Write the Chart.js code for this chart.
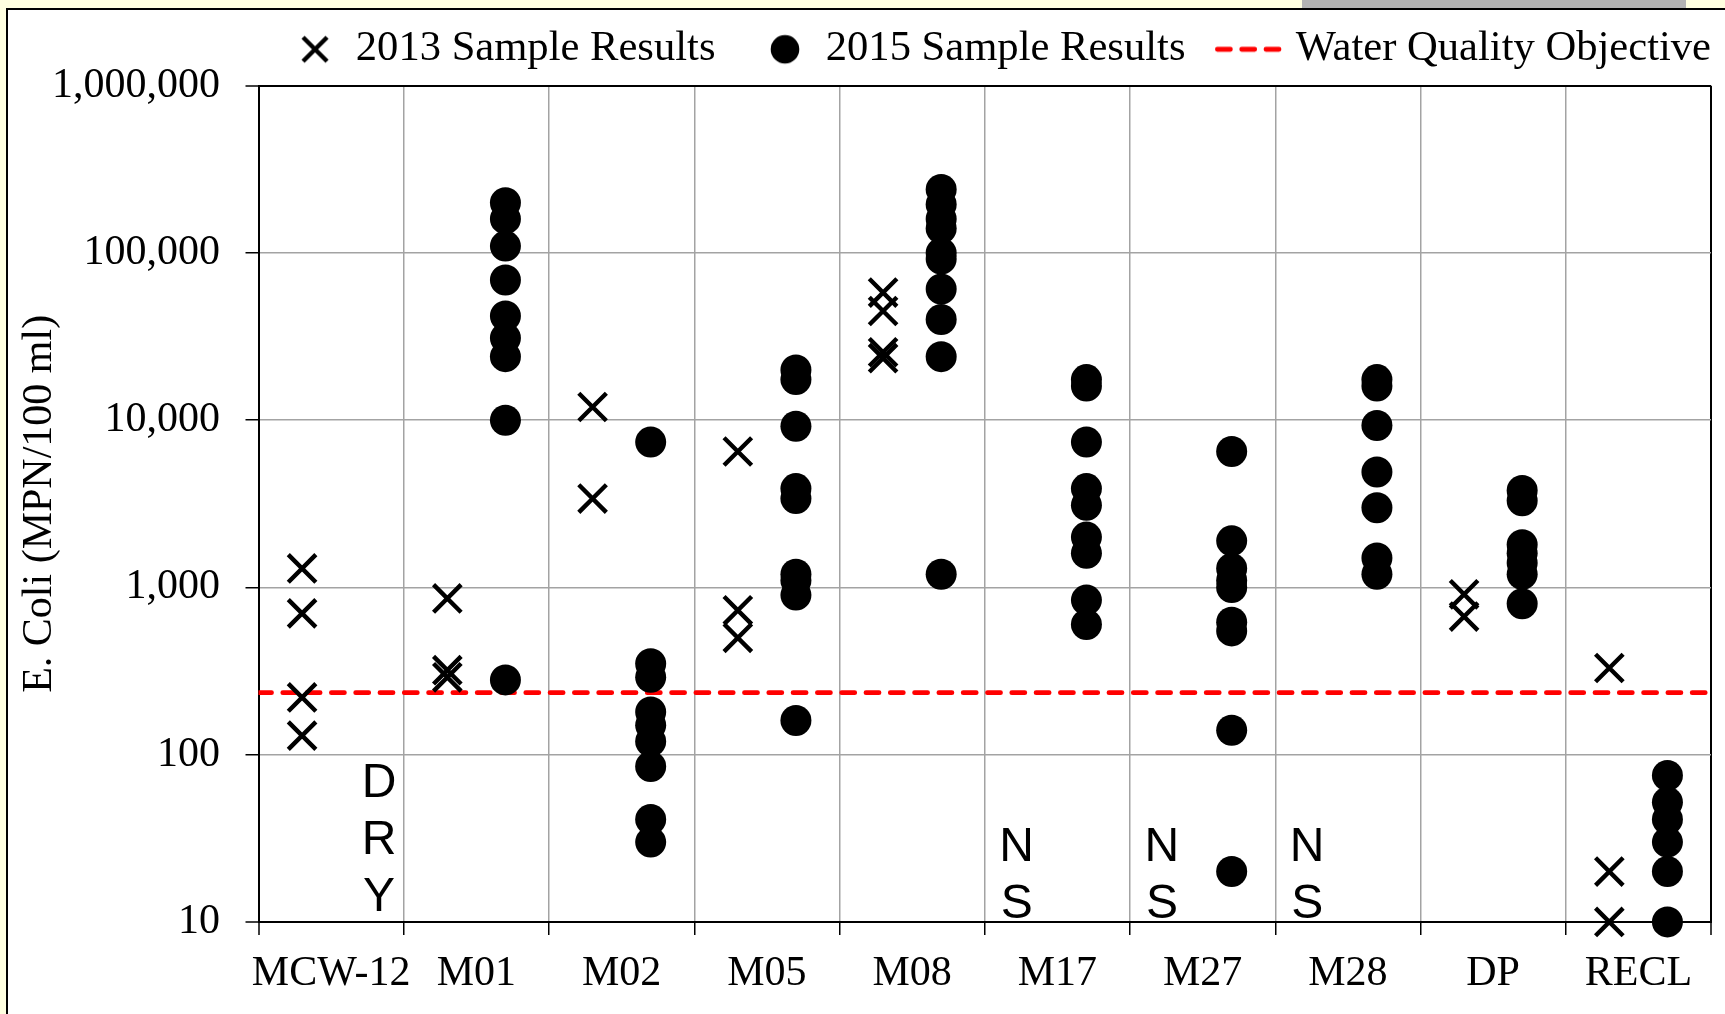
<!DOCTYPE html>
<html>
<head>
<meta charset="utf-8">
<script src="https://cdn.jsdelivr.net/npm/chart.js@4.4.1/dist/chart.umd.min.js"></script>
<style>
  html, body { margin: 0; padding: 0; width: 1725px; height: 1014px; overflow: hidden; background: #FFFFE0; }
  #frame { position: absolute; left: 6px; top: 8px; width: 1800px; height: 1100px; background: #ffffff;
           border-left: 2px solid #000; border-top: 2px solid #000; }
  #tab { position: absolute; left: 1302px; top: 0; width: 384px; height: 8px; background: #b3b3b3; }
  #wrap { position: absolute; left: 0; top: -22px; }
</style>
</head>
<body>
<div id="frame"></div>
<div id="tab"></div>
<div id="wrap"><canvas id="c" width="1761" height="1036"></canvas></div>
<script>
// ---------------- data ----------------
const categories = ['MCW-12', 'M01', 'M02', 'M05', 'M08', 'M17', 'M27', 'M28', 'DP', 'RECL'];
const seriesNames = ['2013 Sample Results', '2015 Sample Results', 'Water Quality Objective'];

// E. coli results (MPN/100 ml), one list per station, in category order
const results2013 = [
  [1300, 700, 220, 130],          // MCW-12
  [860, 320, 290],                // M01
  [12000, 3400],                  // M02
  [6500, 730, 500],               // M05
  [58000, 45000, 25500, 23500],   // M08
  [],                             // M17 (not sampled)
  [],                             // M27 (not sampled)
  [],                             // M28 (not sampled)
  [910, 670],                     // DP
  [330, 20, 10]                   // RECL
];
const results2015 = [
  [],                                                                 // MCW-12 (dry)
  [200000, 160000, 110000, 69000, 42000, 31000, 24000, 10000, 280],   // M01
  [7400, 350, 290, 180, 150, 120, 85, 41, 30],                        // M02
  [20000, 17500, 9200, 3900, 3400, 1200, 1100, 900, 160],             // M05
  [240000, 195000, 160000, 140000, 100000, 92000, 61000, 40000, 24000, 1200], // M08
  [17500, 16000, 7400, 3900, 3100, 2000, 1600, 840, 600],             // M17
  [6500, 1900, 1300, 1100, 1000, 620, 550, 140, 20],                  // M27
  [17500, 16000, 9300, 4900, 3000, 1500, 1200],                       // M28
  [3800, 3300, 1800, 1600, 1400, 1200, 800],                          // DP
  [75, 52, 41, 30, 20, 10]                                            // RECL
];
const waterQualityObjective = 235;
const yTickValues = [10, 100, 1000, 10000, 100000, 1000000];
const noteCategories = ['MCW-12', 'M17', 'M27', 'M28'];
const noteTexts = ['DRY', 'NS', 'NS', 'NS'];
const noteSeries = [1, 0, 0, 0]; // which year's slot the note sits in

// ---------------- styling ----------------
const SERIF = "'Liberation Serif', 'Times New Roman', serif";
const SANS = "'Liberation Sans', Arial, sans-serif";
const GRID = '#a3a3a3';
const seriesShift = [-0.2, 0.2];

Chart.defaults.font.family = SERIF;
Chart.defaults.font.size = 42;
Chart.defaults.color = '#000';

function toPoints(results, shift) {
  const pts = [];
  results.forEach((vals, i) => vals.forEach(v => pts.push({ x: i + shift, y: v })));
  return pts;
}

function makeSymbol(w, h, draw) {
  const c = document.createElement('canvas');
  c.width = w; c.height = h;
  draw(c.getContext('2d'));
  return c;
}
const legendSymbols = [
  makeSymbol(32, 32, g => {
    g.strokeStyle = '#000'; g.lineWidth = 4.4; g.beginPath();
    g.moveTo(4, 4); g.lineTo(28, 28); g.moveTo(28, 4); g.lineTo(4, 28); g.stroke();
  }),
  makeSymbol(32, 32, g => {
    g.fillStyle = '#000'; g.beginPath(); g.arc(16, 16, 14.3, 0, Math.PI * 2); g.fill();
  }),
  makeSymbol(80, 10, g => {
    g.strokeStyle = '#ff0000'; g.lineWidth = 4.8; g.lineCap = 'round'; g.setLineDash([13, 11.3]);
    g.beginPath(); g.moveTo(2.4, 5); g.lineTo(65, 5); g.stroke();
  })
];

const notesPlugin = {
  id: 'stationNotes',
  afterDatasetsDraw(chart) {
    const ctx = chart.ctx;
    const xs = chart.scales.xv;
    const bottom = chart.chartArea.bottom;
    const noteShift = [-0.28, 0.33];
    const baseGap = [4, 11];
    ctx.save();
    ctx.font = '48px ' + SANS;
    ctx.fillStyle = '#000';
    ctx.textAlign = 'center';
    ctx.textBaseline = 'alphabetic';
    noteCategories.forEach((cat, k) => {
      const i = categories.indexOf(cat);
      const s = noteSeries[k];
      const x = xs.getPixelForValue(i + noteShift[s]);
      const letters = noteTexts[k].split('');
      letters.forEach((ch, j) => {
        const y = bottom - baseGap[s] - (letters.length - 1 - j) * 57;
        ctx.fillText(ch, x, y);
      });
    });
    ctx.restore();
  }
};

const edgeY = c => c.tick && (c.tick.value === yTickValues[0] || c.tick.value === yTickValues[yTickValues.length - 1]);
const edgeX = c => c.type !== 'tick' || c.index === 0;

new Chart(document.getElementById('c'), {
  type: 'scatter',
  data: {
    datasets: [
      {
        label: seriesNames[0],
        data: toPoints(results2013, seriesShift[0]),
        xAxisID: 'xv', yAxisID: 'y',
        pointStyle: 'crossRot', pointRadius: 19.5, pointBorderWidth: 4.4,
        borderColor: '#000', backgroundColor: '#000', clip: false
      },
      {
        label: seriesNames[1],
        data: toPoints(results2015, seriesShift[1]),
        xAxisID: 'xv', yAxisID: 'y',
        pointStyle: 'circle', pointRadius: 15.5, pointBorderWidth: 0,
        borderColor: '#000', backgroundColor: '#000', clip: false
      },
      {
        type: 'line',
        label: seriesNames[2],
        data: [{ x: -0.5, y: waterQualityObjective }, { x: categories.length - 0.5, y: waterQualityObjective }],
        xAxisID: 'xv', yAxisID: 'y',
        borderColor: '#ff0000', backgroundColor: '#ff0000', borderWidth: 4.8,
        borderDash: [13, 11.3], borderCapStyle: 'round', pointRadius: 0, fill: false
      }
    ]
  },
  options: {
    responsive: false,
    animation: false,
    events: [],
    layout: { padding: 0 },
    scales: {
      x: {
        type: 'category', labels: categories, offset: true, position: 'bottom',
        afterFit(s) { s.height = 92.1; },
        ticks: { autoSkip: false, maxRotation: 0, minRotation: 0, padding: 14.3, font: { size: 42 }, color: '#000' },
        grid: { offset: true, color: c => edgeX(c) ? '#000' : GRID, lineWidth: c => edgeX(c) ? 2 : 1.5,
                tickLength: 13, tickColor: '#000', tickWidth: 1.5 },
        border: { color: '#000', width: 2 }
      },
      xv: { type: 'linear', axis: 'x', display: false, min: -0.5, max: categories.length - 0.5 },
      xs: { type: 'linear', axis: 'x', position: 'top', display: true,
            grid: { display: false }, border: { display: false }, ticks: { display: false },
            afterFit(s) { s.height = 5.2; } },
      ys: { type: 'linear', axis: 'y', position: 'right', display: true,
            grid: { display: false }, border: { display: false }, ticks: { display: false },
            afterFit(s) { s.width = 50; } },
      y: {
        type: 'logarithmic', position: 'left', min: yTickValues[0], max: yTickValues[yTickValues.length - 1],
        afterBuildTicks(s) { s.ticks = yTickValues.map(v => ({ value: v })); },
        afterFit(s) { s.width = 258.5; },
        ticks: { autoSkip: false, padding: 25.5, font: { size: 42 }, color: '#000',
                 callback: v => Number(v).toLocaleString('en-US') },
        grid: { color: c => edgeY(c) ? '#000' : GRID, lineWidth: c => edgeY(c) ? 2 : 1.5,
                tickLength: 13, tickColor: '#000', tickWidth: 1.5 },
        border: { color: '#000', width: 2 },
        title: { display: true, text: 'E. Coli (MPN/100 ml)', font: { size: 42 }, color: '#000',
                 padding: { top: 15, bottom: 0 } }
      }
    },
    plugins: {
      tooltip: { enabled: false },
      legend: {
        display: true, position: 'top', align: 'end',
        labels: {
          usePointStyle: true, pointStyleWidth: 39, boxHeight: 42.6, padding: 50,
          font: { size: 42.6 }, color: '#000',
          generateLabels(chart) {
            const items = Chart.defaults.plugins.legend.labels.generateLabels(chart);
            return items.map((it, k) => Object.assign({}, it, { pointStyle: legendSymbols[k] }));
          }
        }
      }
    }
  },
  plugins: [notesPlugin]
});
</script>
</body>
</html>
